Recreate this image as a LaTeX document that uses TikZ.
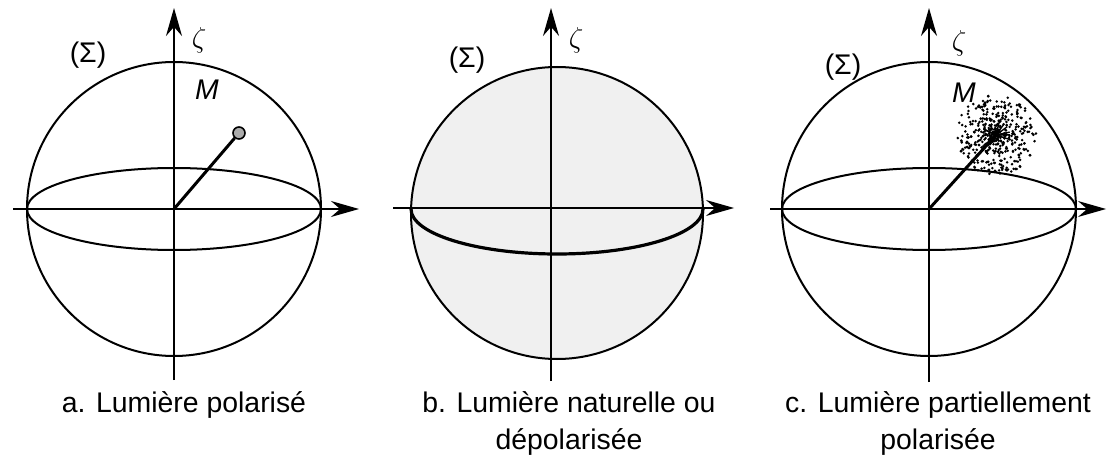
\documentclass[tikz,border=0pt]{standalone}
\usepackage{fontspec}
\setmainfont{Liberation Sans}
\usetikzlibrary{arrows.meta}

\begin{document}
\begin{tikzpicture}[x=0.5pt,y=0.5pt,font=\fontsize{14.2}{18.5}\selectfont,
  ax/.style={-{Stealth[length=14pt,width=8pt]},line width=0.9pt},
  sph/.style={line width=1pt},
  rad/.style={line width=1.5pt},
  lbl/.style={inner sep=0pt,align=center}]
\useasboundingbox (0,0) rectangle (1107,461);
% a. polarised
\coordinate (oa) at (174,252);
\coordinate (ba) at (174,81);
\coordinate (ta) at (174,453);
\coordinate (la) at (13,252);
\coordinate (ra) at (359,252);
\draw[sph] (oa) circle (147);
\draw[sph] (oa) ellipse (147 and 41);
\draw[ax] (ba) -- (ta);
\draw[ax] (la) -- (ra);
\node[circle,draw,fill=gray!65,line width=0.8pt,inner sep=0pt,minimum size=6pt] (ma) at (239,328) {};
\draw[rad] (oa) -- (ma);
\node (zetaa) at (199,421) {$\zeta$};
\node (siga) at (88,406) {(Σ)};
\node (lma) at (207,371) {\textit{M}};
\node[lbl] (capa) at (184,56) {a. Lumière polarisé};
% b. natural
\coordinate (ob) at (557,248);
\coordinate (eb) at (411,252);
\coordinate (bb) at (551,80);
\coordinate (tb) at (551,453);
\coordinate (lb) at (393,253);
\coordinate (rb) at (734,253);
\fill[gray!12] (ob) circle (146);
\draw[sph] (ob) circle (146);
\draw[line width=1.6pt] (eb) arc[start angle=180,end angle=360,x radius=146,y radius=45];
\draw[ax] (bb) -- (tb);
\draw[ax] (lb) -- (rb);
\node (zetab) at (576,421) {$\zeta$};
\node (sigb) at (467,401) {(Σ)};
\node[lbl] (capb) at (569,37.5) {b. Lumière naturelle ou\\dépolarisée};
% c. partially polarised
\coordinate (oc) at (929,252);
\coordinate (bc) at (929,79);
\coordinate (tc) at (929,453);
\coordinate (lc) at (770,252);
\coordinate (rc) at (1106,252);
\coordinate (mc) at (996,326);
\draw[sph] (oc) circle (147);
\draw[sph] (oc) ellipse (147 and 41);
\draw[ax] (bc) -- (tc);
\draw[ax] (lc) -- (rc);
\pgfmathsetseed{11}
\foreach \i in {1,...,330}{
  \pgfmathsetmacro{\ang}{360*rnd}
  \pgfmathsetmacro{\rr}{40*sqrt(rnd)}
  \fill (mc) ++(\ang:\rr) circle (1.4);
}
\foreach \i in {1,...,120}{
  \pgfmathsetmacro{\ang}{360*rnd}
  \pgfmathsetmacro{\rr}{18*rnd}
  \fill (mc) ++(\ang:\rr) circle (1.4);
}
\foreach \i in {1,...,10}{
  \pgfmathsetmacro{\ang}{360*rnd}
  \draw[line width=0.7pt] (mc) -- ++(\ang:14);
}
\draw[rad] (oc) -- (mc);
\node (zetac) at (959,418) {$\zeta$};
\node (sigc) at (843,394) {(Σ)};
\node (lmc) at (964,368) {\textit{M}};
\node[lbl] (capc) at (938,37.5) {c. Lumière partiellement\\polarisée};
\end{tikzpicture}
\end{document}
